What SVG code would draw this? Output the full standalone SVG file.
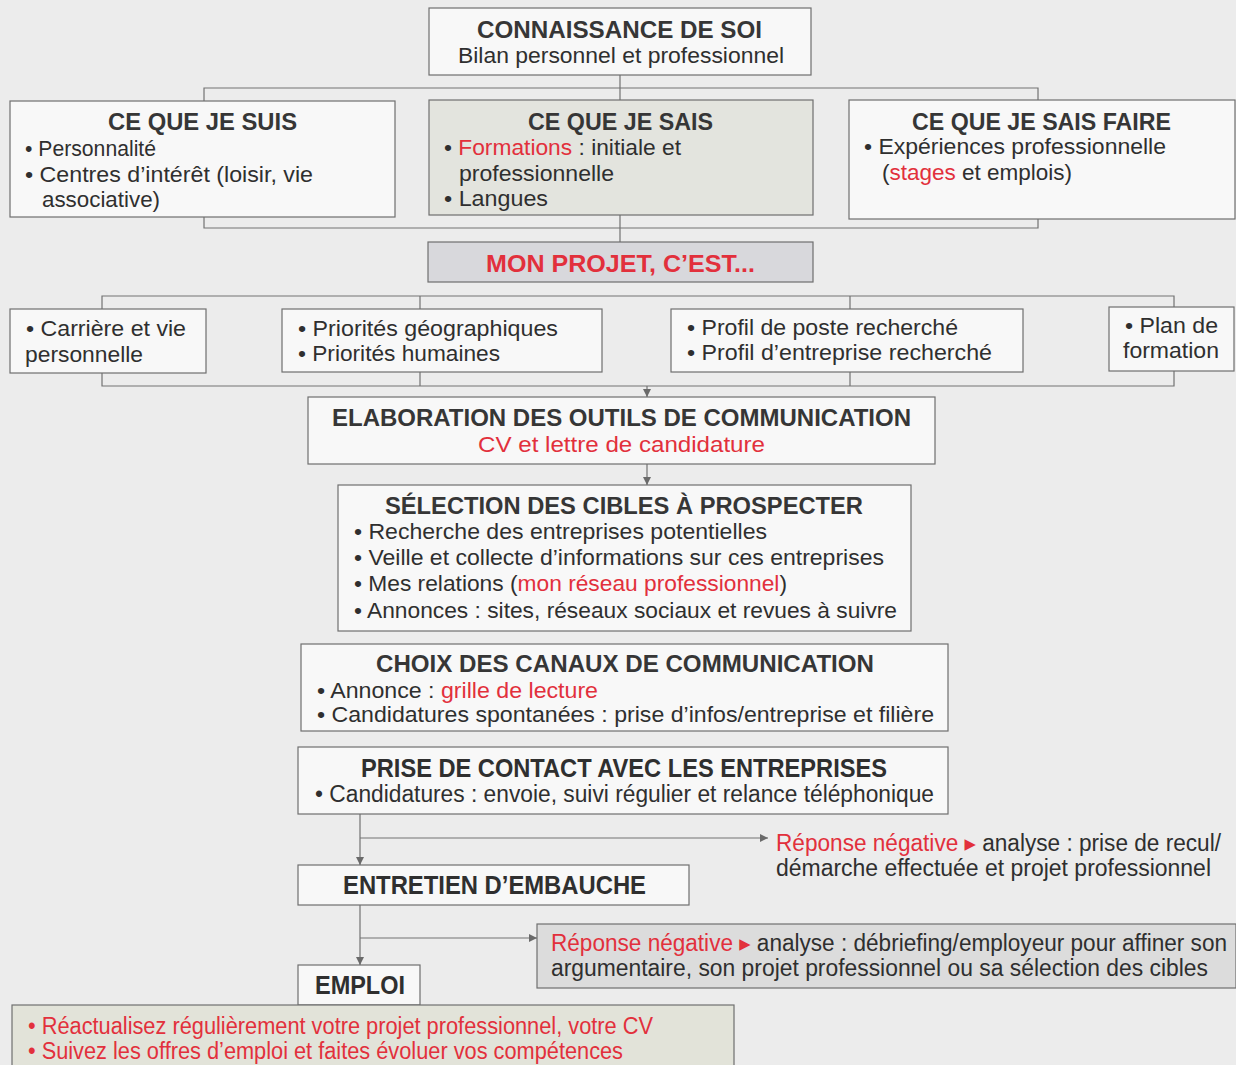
<svg xmlns="http://www.w3.org/2000/svg" width="1236" height="1065" viewBox="0 0 1236 1065">
<defs>
<style>
.box{fill:#f8f8f8;stroke:#6f6f6f;stroke-width:1.2}
.t{font-family:"Liberation Sans",Arial,Helvetica,sans-serif;font-size:24px;font-weight:bold;fill:#363636}
.b{font-family:"Liberation Sans",Arial,Helvetica,sans-serif;font-size:22px;fill:#2f2f2f}
.tc{font-family:"Liberation Sans",Arial,Helvetica,sans-serif;font-size:26px;font-weight:bold;fill:#2f2f2f}
.bc{font-family:"Liberation Sans",Arial,Helvetica,sans-serif;font-size:23px;fill:#2f2f2f}
.r{fill:#e2303c}
.tri{font-family:"DejaVu Sans","Liberation Sans",sans-serif}
.ln{fill:none;stroke:#727272;stroke-width:1.2}
</style>
<marker id="ah" markerUnits="userSpaceOnUse" markerWidth="9" markerHeight="9" refX="8" refY="4" orient="auto">
<path d="M0,0 L8,4 L0,8 z" fill="#6a6a6a"/>
</marker>
</defs>
<rect x="0" y="0" width="1236" height="1065" fill="#ececec"/>

<g id="connectors">
<path class="ln" d="M620,75 V100"/>
<path class="ln" d="M204,101 V88 H1038 V100"/>
<path class="ln" d="M204,217 V228 H1038 V219"/>
<path class="ln" d="M620,215 V242"/>
<path class="ln" d="M102,309 V296 H1174 V307"/>
<path class="ln" d="M420,296 V309"/>
<path class="ln" d="M850,296 V309"/>
<path class="ln" d="M102,373 V386 H1174 V371"/>
<path class="ln" d="M420,372 V386"/>
<path class="ln" d="M850,372 V386"/>
<path class="ln" d="M647,386 V397" marker-end="url(#ah)"/>
<path class="ln" d="M647,464 V485" marker-end="url(#ah)"/>
<path class="ln" d="M360,814 V865" marker-end="url(#ah)"/>
<path class="ln" d="M360,838 H768" marker-end="url(#ah)"/>
<path class="ln" d="M360,905 V965" marker-end="url(#ah)"/>
<path class="ln" d="M360,938 H537" marker-end="url(#ah)"/>
</g>

<g id="connaissance">
<rect class="box" x="429" y="8" width="382" height="67"/>
<text class="t" x="477" y="38" textLength="285" lengthAdjust="spacingAndGlyphs">CONNAISSANCE DE SOI</text>
<text class="b" x="458" y="63" textLength="326" lengthAdjust="spacingAndGlyphs">Bilan personnel et professionnel</text>
</g>

<g id="suis">
<rect class="box" x="10" y="101" width="385" height="116"/>
<text class="t" x="108" y="130" textLength="189" lengthAdjust="spacingAndGlyphs">CE QUE JE SUIS</text>
<text class="b" x="25" y="156" textLength="131" lengthAdjust="spacingAndGlyphs">• Personnalité</text>
<text class="b" x="25" y="182" textLength="288" lengthAdjust="spacingAndGlyphs">• Centres d’intérêt (loisir, vie</text>
<text class="b" x="42" y="207" textLength="118" lengthAdjust="spacingAndGlyphs">associative)</text>
</g>

<g id="sais">
<rect class="box" x="429" y="100" width="384" height="115" style="fill:#e3e4de"/>
<text class="t" x="528" y="130" textLength="185" lengthAdjust="spacingAndGlyphs">CE QUE JE SAIS</text>
<text class="b" x="444" y="155" textLength="237" lengthAdjust="spacingAndGlyphs">• <tspan class="r">Formations</tspan> : initiale et</text>
<text class="b" x="459" y="181" textLength="155" lengthAdjust="spacingAndGlyphs">professionnelle</text>
<text class="b" x="444" y="206" textLength="104" lengthAdjust="spacingAndGlyphs">• Langues</text>
</g>

<g id="saisfaire">
<rect class="box" x="849" y="100" width="386" height="119"/>
<text class="t" x="912" y="130" textLength="259" lengthAdjust="spacingAndGlyphs">CE QUE JE SAIS FAIRE</text>
<text class="b" x="864" y="154" textLength="302" lengthAdjust="spacingAndGlyphs">• Expériences professionnelle</text>
<text class="b" x="882" y="180" textLength="190" lengthAdjust="spacingAndGlyphs">(<tspan class="r">stages</tspan> et emplois)</text>
</g>

<g id="projet">
<rect class="box" x="428" y="242" width="385" height="40" style="fill:#d8d8dc"/>
<text class="t r" x="486" y="272" textLength="269" lengthAdjust="spacingAndGlyphs">MON PROJET, C’EST...</text>
</g>

<g id="carriere">
<rect class="box" x="10" y="309" width="196" height="64"/>
<text class="b" x="26" y="336" textLength="160" lengthAdjust="spacingAndGlyphs">• Carrière et vie</text>
<text class="b" x="25" y="362" textLength="118" lengthAdjust="spacingAndGlyphs">personnelle</text>
</g>

<g id="priorites">
<rect class="box" x="282" y="309" width="320" height="63"/>
<text class="b" x="298" y="336" textLength="260" lengthAdjust="spacingAndGlyphs">• Priorités géographiques</text>
<text class="b" x="298" y="361" textLength="202" lengthAdjust="spacingAndGlyphs">• Priorités humaines</text>
</g>

<g id="profil">
<rect class="box" x="671" y="309" width="352" height="63"/>
<text class="b" x="687" y="335" textLength="271" lengthAdjust="spacingAndGlyphs">• Profil de poste recherché</text>
<text class="b" x="687" y="360" textLength="305" lengthAdjust="spacingAndGlyphs">• Profil d’entreprise recherché</text>
</g>

<g id="plan">
<rect class="box" x="1109" y="307" width="125" height="64"/>
<text class="b" x="1125" y="333" textLength="93" lengthAdjust="spacingAndGlyphs">• Plan de</text>
<text class="b" x="1123" y="358" textLength="96" lengthAdjust="spacingAndGlyphs">formation</text>
</g>

<g id="elaboration">
<rect class="box" x="308" y="397" width="627" height="67"/>
<text class="t" x="332" y="426" textLength="579" lengthAdjust="spacingAndGlyphs">ELABORATION DES OUTILS DE COMMUNICATION</text>
<text class="b r" x="478" y="452" textLength="287" lengthAdjust="spacingAndGlyphs">CV et lettre de candidature</text>
</g>

<g id="selection">
<rect class="box" x="338" y="485" width="573" height="146"/>
<text class="t" x="385" y="514" textLength="478" lengthAdjust="spacingAndGlyphs">SÉLECTION DES CIBLES À PROSPECTER</text>
<text class="b" x="354" y="539" textLength="413" lengthAdjust="spacingAndGlyphs">• Recherche des entreprises potentielles</text>
<text class="b" x="354" y="565" textLength="530" lengthAdjust="spacingAndGlyphs">• Veille et collecte d’informations sur ces entreprises</text>
<text class="b" x="354" y="591" textLength="433" lengthAdjust="spacingAndGlyphs">• Mes relations (<tspan class="r">mon réseau professionnel</tspan>)</text>
<text class="b" x="354" y="618" textLength="543" lengthAdjust="spacingAndGlyphs">• Annonces : sites, réseaux sociaux et revues à suivre</text>
</g>

<g id="choix">
<rect class="box" x="301" y="644" width="647" height="87"/>
<text class="t" x="376" y="672" textLength="498" lengthAdjust="spacingAndGlyphs">CHOIX DES CANAUX DE COMMUNICATION</text>
<text class="b" x="317" y="698" textLength="281" lengthAdjust="spacingAndGlyphs">• Annonce : <tspan class="r">grille de lecture</tspan></text>
<text class="b" x="317" y="722" textLength="617" lengthAdjust="spacingAndGlyphs">• Candidatures spontanées : prise d’infos/entreprise et filière</text>
</g>

<g id="prise">
<rect class="box" x="298" y="747" width="650" height="67"/>
<text class="tc" x="361" y="777" textLength="526" lengthAdjust="spacingAndGlyphs">PRISE DE CONTACT AVEC LES ENTREPRISES</text>
<text class="bc" x="315" y="802" textLength="619" lengthAdjust="spacingAndGlyphs">• Candidatures : envoie, suivi régulier et relance téléphonique</text>
</g>

<g id="reponse1">
<text class="bc" x="776" y="851" textLength="445" lengthAdjust="spacingAndGlyphs"><tspan class="r">Réponse négative </tspan><tspan class="r tri">▸</tspan> analyse : prise de recul/</text>
<text class="bc" x="776" y="876" textLength="435" lengthAdjust="spacingAndGlyphs">démarche effectuée et projet professionnel</text>
</g>

<g id="entretien">
<rect class="box" x="298" y="865" width="391" height="40"/>
<text class="tc" x="343" y="894" textLength="303" lengthAdjust="spacingAndGlyphs">ENTRETIEN D’EMBAUCHE</text>
</g>

<g id="reponse2">
<rect class="box" x="537" y="924" width="699" height="64" style="fill:#dcdcdc"/>
<text class="bc" x="551" y="951" textLength="676" lengthAdjust="spacingAndGlyphs"><tspan class="r">Réponse négative </tspan><tspan class="r tri">▸</tspan> analyse : débriefing/employeur pour affiner son</text>
<text class="bc" x="551" y="976" textLength="657" lengthAdjust="spacingAndGlyphs">argumentaire, son projet professionnel ou sa sélection des cibles</text>
</g>

<g id="emploi">
<rect class="box" x="298" y="965" width="122" height="40"/>
<text class="tc" x="315" y="994" textLength="90" lengthAdjust="spacingAndGlyphs">EMPLOI</text>
</g>

<g id="conseils">
<rect class="box" x="12" y="1005" width="722" height="62" style="fill:#e2e3d9"/>
<text class="bc r" x="28" y="1034" textLength="625" lengthAdjust="spacingAndGlyphs">• Réactualisez régulièrement votre projet professionnel, votre CV</text>
<text class="bc r" x="28" y="1059" textLength="595" lengthAdjust="spacingAndGlyphs">• Suivez les offres d’emploi et faites évoluer vos compétences</text>
</g>
</svg>
